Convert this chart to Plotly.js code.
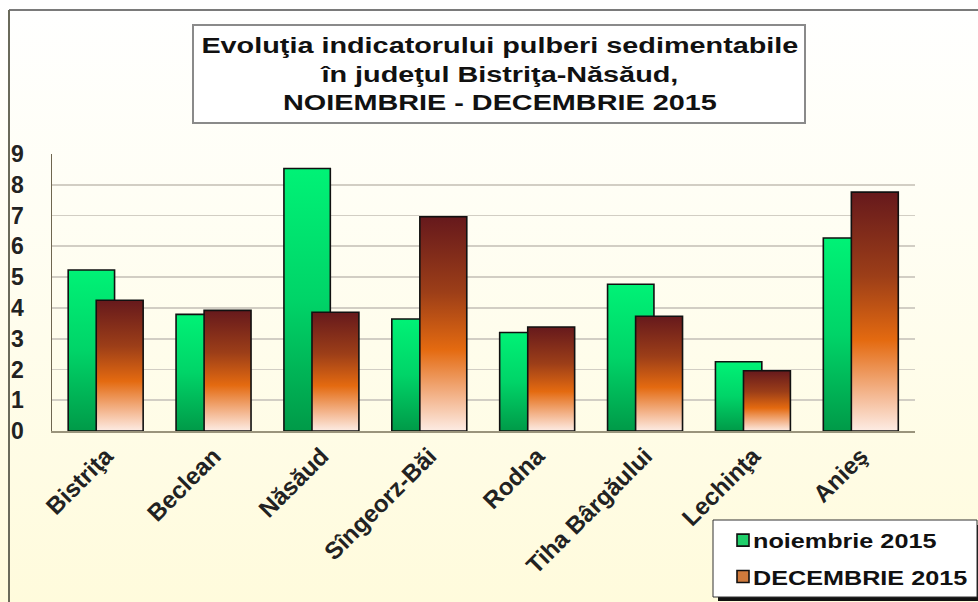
<!DOCTYPE html>
<html>
<head>
<meta charset="utf-8">
<script src="https://cdn.plot.ly/plotly-3.0.1.min.js"></script>
<style>html,body{margin:0;padding:0;}#chart{width:978px;height:602px;background:linear-gradient(to bottom,#ffffff 0%,#fffef4 35%,#fffbdc 100%);}</style>
</head>
<body>
<div id="chart"></div>
<script>
const categories = ["Bistriţa", "Beclean", "Năsăud", "Sîngeorz-Băi", "Rodna", "Tiha Bârgăului", "Lechinţa", "Anieş"];
const noiembrie = [5.23, 3.79, 8.53, 3.64, 3.20, 4.77, 2.25, 6.27];
const decembrie = [4.25, 3.92, 3.86, 6.96, 3.38, 3.73, 1.96, 7.76];
const seriesNames = ["noiembrie 2015", "DECEMBRIE 2015"];
const yTicks = [0, 1, 2, 3, 4, 5, 6, 7, 8, 9];
const titleText = "Evoluţia indicatorului pulberi sedimentabile<br>în judeţul Bistriţa-Năsăud,<br>NOIEMBRIE - DECEMBRIE 2015";

const W = 978, H = 602;
const font = "'Liberation Sans', Arial, sans-serif";
// plot area in pixels: x 52..915, y 154..431
const px = function (x) { return (x - 52) / 863; };
const py = function (y) { return (431 - y) / 277; };

const traces = [
  {type: 'bar', x: categories, y: noiembrie, name: seriesNames[0], legendgroup: 'a',
   width: 0.43, offset: -0.35,
   marker: {color: '#1fcf6a', line: {color: '#111', width: 1.6}}},
  {type: 'bar', x: categories, y: decembrie, name: seriesNames[1], legendgroup: 'b',
   width: 0.435, offset: -0.09,
   marker: {color: '#cf7a3c', line: {color: '#111', width: 1.6}}}
];

const layout = {
  width: W, height: H,
  paper_bgcolor: 'rgba(0,0,0,0)',
  plot_bgcolor: 'rgba(0,0,0,0)',
  margin: {l: 52, r: 63, t: 154, b: 171, autoexpand: false},
  barmode: 'overlay',
  font: {family: font, color: '#111'},
  title: {text: '<b>' + titleText + '</b>', font: {family: font, size: 22, color: '#111'},
          x: 0.519, xanchor: 'center', y: 1 - 53 / H, yanchor: 'middle', xref: 'paper', yref: 'container'},
  xaxis: {tickangle: -45, automargin: false, tickfont: {family: font, size: 24, color: '#222', weight: 'bold'},
          showgrid: false, showline: true, linecolor: '#9a947c', linewidth: 1.5, ticks: '', zeroline: false},
  yaxis: {range: [0, 9], automargin: false, tickvals: yTicks, ticktext: yTicks.map(String),
          tickfont: {family: font, size: 23, color: '#222', weight: 'bold'},
          showgrid: true, gridcolor: '#d2cec4', gridwidth: 1.8,
          showline: true, linecolor: '#6e6650', linewidth: 1.5, ticks: '', zeroline: false,
          ticklabelstandoff: 22},
  showlegend: true,
  legend: {x: px(723), y: py(520), xanchor: 'left', yanchor: 'top',
           bgcolor: 'rgba(0,0,0,0)', borderwidth: 0,
           font: {family: font, size: 21, color: '#111', weight: 'bold'},
           traceorder: 'grouped', tracegroupgap: 6, itemwidth: 30},
  shapes: [
    // title box
    {type: 'rect', xref: 'paper', yref: 'paper', layer: 'below',
     x0: px(193), x1: px(805), y0: py(123), y1: py(25),
     fillcolor: '#ffffff', line: {color: '#8a8a8a', width: 2}},
    // legend shadow
    {type: 'rect', xref: 'paper', yref: 'paper', layer: 'below',
     x0: px(718), x1: px(981), y0: py(601), y1: py(525),
     fillcolor: '#111', line: {width: 0}},
    // legend box
    {type: 'rect', xref: 'paper', yref: 'paper', layer: 'below',
     x0: px(713), x1: px(977), y0: py(597), y1: py(520),
     fillcolor: '#ffffff', line: {color: '#333', width: 1}},
    // top frame line
    {type: 'line', xref: 'paper', yref: 'paper', x0: px(9), x1: px(978),
     y0: py(10), y1: py(10), line: {color: '#7a7a7a', width: 2}},
    // left frame line
    {type: 'line', xref: 'paper', yref: 'paper', x0: px(9), x1: px(9),
     y0: py(602), y1: py(10), line: {color: '#6a6a5a', width: 2}}
  ]
};

Plotly.newPlot('chart', traces, layout, {staticPlot: true}).then(function (gd) {
  const svg = gd.querySelector('.main-svg');
  const NS = 'http://www.w3.org/2000/svg';
  let defs = svg.querySelector('defs');
  if (!defs) { defs = document.createElementNS(NS, 'defs'); svg.insertBefore(defs, svg.firstChild); }
  function grad(id, stops) {
    const g = document.createElementNS(NS, 'linearGradient');
    g.setAttribute('id', id);
    g.setAttribute('x1', '0'); g.setAttribute('y1', '0'); g.setAttribute('x2', '0'); g.setAttribute('y2', '1');
    stops.forEach(function (s) {
      const st = document.createElementNS(NS, 'stop');
      st.setAttribute('offset', s[0]); st.setAttribute('stop-color', s[1]);
      g.appendChild(st);
    });
    defs.appendChild(g);
  }
  grad('gGreen', [[0, '#00f276'], [0.5, '#00d468'], [1, '#009a48']]);
  grad('gBrown', [[0, '#66191c'], [0.35, '#9c3e18'], [0.62, '#e46a10'], [0.85, '#f4b892'], [1, '#fdece4']]);
  grad('gPlot', [[0, '#ffffff'], [0.45, '#fffef6'], [1, '#fffad6']]);
  const pbg = svg.querySelector('.bglayer rect.bg');
  if (pbg) pbg.style.fill = 'url(#gPlot)';
  const ids = ['gGreen', 'gBrown'];
  gd.querySelectorAll('.barlayer .trace').forEach(function (tg, i) {
    tg.querySelectorAll('.point path').forEach(function (p) { p.style.fill = 'url(#' + ids[i] + ')'; });
  });
  // widen the title text horizontally like the reference
  const t = gd.querySelector('.gtitle');
  if (t) {
    const cx = parseFloat(t.getAttribute('x'));
    const prev = t.getAttribute('transform') || '';
    t.setAttribute('transform', prev + ' translate(' + cx + ',0) scale(1.31,1) translate(' + (-cx) + ',0)');
  }
  gd.querySelectorAll('.legend [clip-path]').forEach(function (el) { el.removeAttribute('clip-path'); });
  gd.querySelectorAll('.legendtext').forEach(function (lt) {
    const x = parseFloat(lt.getAttribute('x')) || 0;
    const prev = lt.getAttribute('transform') || '';
    lt.setAttribute('transform', prev + ' translate(' + (x - 10) + ',0) scale(1.2,1) translate(' + (-x) + ',0)');
  });
});
</script>
</body>
</html>
